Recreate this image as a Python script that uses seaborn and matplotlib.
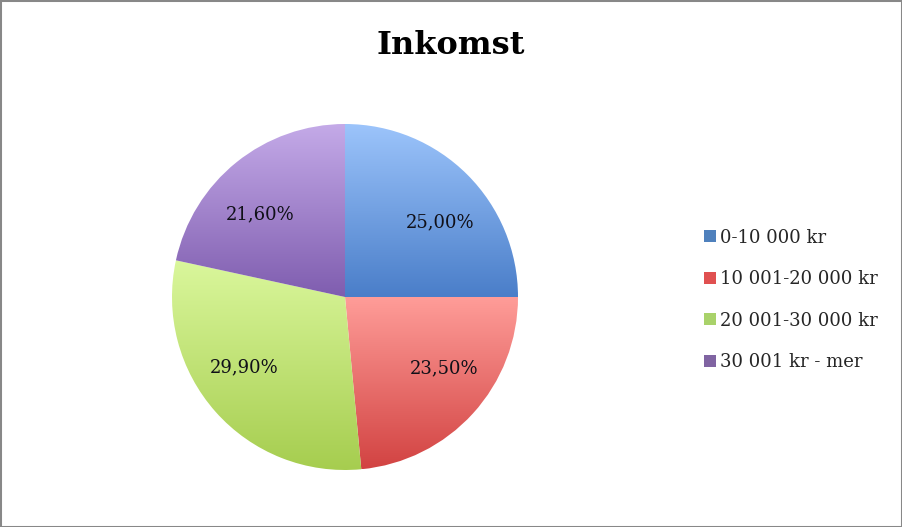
import numpy as np
import matplotlib
matplotlib.use("Agg")
import matplotlib.pyplot as plt
import matplotlib.patches as mpatches
from matplotlib.colors import LinearSegmentedColormap
import seaborn as sns

# data
categories = ["0-10 000 kr", "10 001-20 000 kr", "20 001-30 000 kr", "30 001 kr - mer"]
shares = [25.0, 23.5, 29.9, 21.6]
title = "Inkomst"

# gradient colours (top, bottom) per slice
top_colors = ["#9cc4fb", "#ff9d99", "#daf79c", "#c4aae8"]
bottom_colors = ["#4a7ec9", "#d24342", "#a6cd4f", "#7f5daf"]
mid_colors = ["#4f81bd", "#e05050", "#a9d26a", "#8064a2"]

sns.set_theme(style="white")
plt.rcParams['font.family'] = ['DejaVu Serif']

fig = plt.figure(figsize=(9.02, 5.27), dpi=100)
W, H = 902, 527
cx, cy, r = 345, 297, 173
ax = fig.add_axes([(cx - r) / W, (H - cy - r) / H, 2 * r / W, 2 * r / H])

wedges, texts, autotexts = ax.pie(
    shares, startangle=90, counterclock=False, radius=1,
    autopct=lambda p: f"{p:.2f}".replace(".", ",") + "%",
    pctdistance=0.72, colors=mid_colors,
    wedgeprops=dict(linewidth=0),
    textprops=dict(fontsize=13, color="#101018"))

# vertical gradient inside each wedge
for w, c0, c1 in zip(wedges, top_colors, bottom_colors):
    cmap = LinearSegmentedColormap.from_list("g", [c1, c0])
    path = w.get_path().transformed(w.get_patch_transform())
    ext = path.get_extents()
    grad = np.linspace(0, 1, 256).reshape(-1, 1)
    im = ax.imshow(grad, cmap=cmap, origin="lower", aspect="auto",
                   extent=[ext.x0, ext.x1, ext.y0, ext.y1], zorder=w.get_zorder())
    im.set_clip_path(w)
    w.set_facecolor("none")

# excel-style label placement: pulled a bit toward the horizontal
for t in autotexts:
    x, y = t.get_position()
    t.set_position((x * 1.08, y * 0.85))
    t.set_zorder(5)
ax.set_xlim(-1, 1)
ax.set_ylim(-1, 1)
ax.set_aspect("equal")
ax.axis("off")

fig.text(451 / W, 1 - 46 / H, title, ha="center", va="center",
         fontsize=23, fontweight="bold", color="black")

handles = [mpatches.Patch(facecolor=c, edgecolor="none") for c in mid_colors]
fig.legend(handles, categories, loc="center left",
           bbox_to_anchor=(697 / W, 1 - 300 / H), frameon=False,
           fontsize=13, handlelength=0.65, handleheight=0.65,
           handletextpad=0.25, labelspacing=1.3, borderaxespad=0)

fig.patches.append(mpatches.Rectangle((0, 0), 1, 1, transform=fig.transFigure,
                                      fill=False, edgecolor="#888888", linewidth=2.2))

fig.savefig("out.png", dpi=100)
